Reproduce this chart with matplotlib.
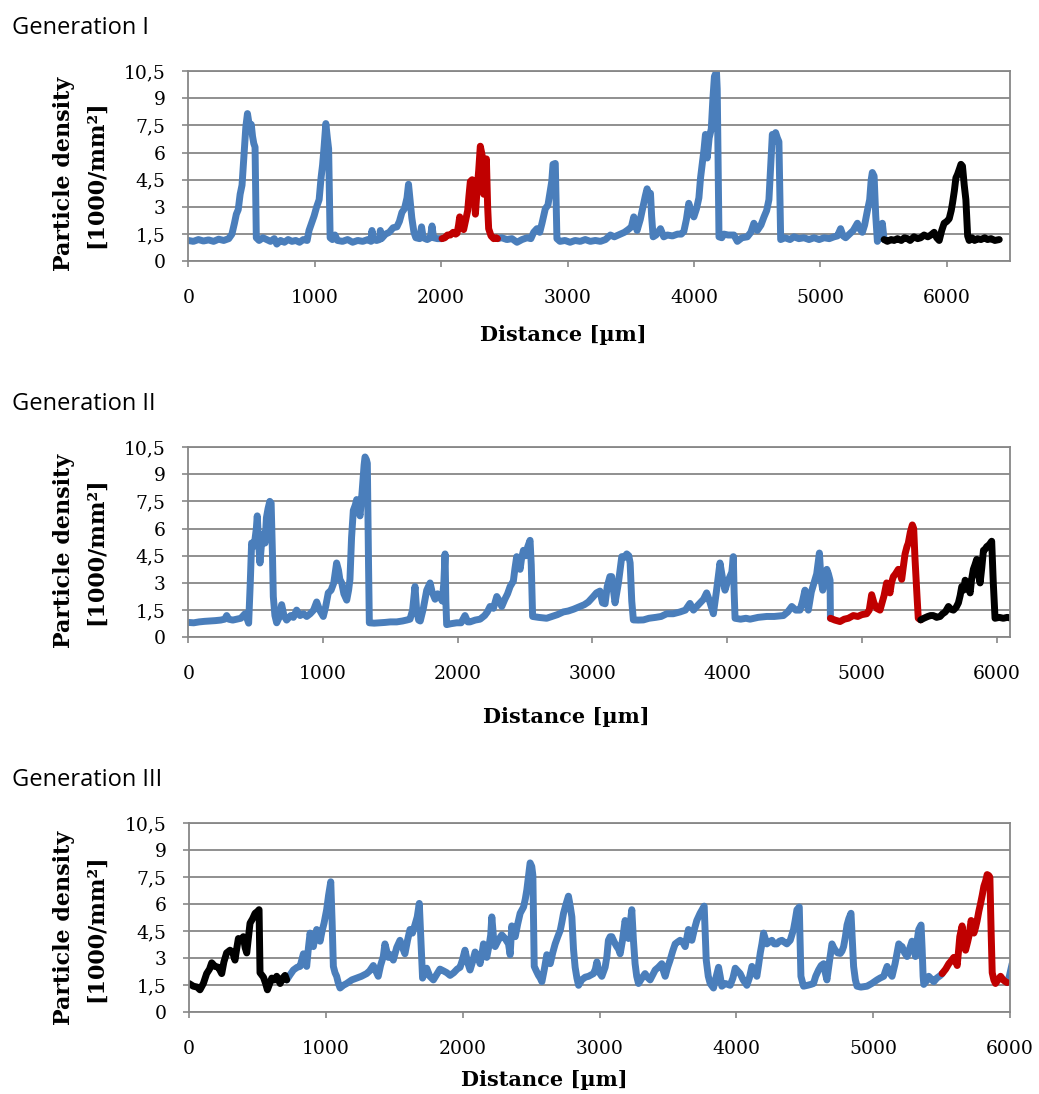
import numpy as np
import matplotlib
matplotlib.use("Agg")
import matplotlib.pyplot as plt

nan = np.nan

BLUE = "#4A7EBB"
RED = "#C00000"
BLACK = "#000000"
GRID = "#878787"

# ---------------- Generation I ----------------
g1_blue_x = [0, 40, 80, 120, 160, 200, 240, 280, 320, 345, 365, 380, 395, 410, 425, 440, 455, 468, 478, 488,
             498, 508, 518, 528, 538, 560, 590, 620, 650, 680, 700, 730, 760, 790, 820, 850, 880, 910, 940, 955,
             975, 995, 1015, 1035, 1050, 1062, 1074, 1088, 1100, 1110, 1122, 1140, 1160, 1180, 1220, 1260, 1300,
             1340, 1380, 1420, 1445, 1453, 1462, 1490, 1512, 1519, 1528, 1560, 1590, 1620, 1650, 1670, 1690, 1710,
             1730, 1742, 1755, 1768, 1785, 1800, 1830, 1845, 1858, 1890, 1915, 1928, 1940, 1970, 2007,
             nan,
             2446, 2480, 2520, 2560, 2600, 2640, 2680, 2710, 2732, 2758, 2780, 2798, 2824, 2845, 2864, 2875, 2885,
             2903, 2916, 2940, 2980, 3020, 3060, 3100, 3140, 3180, 3220, 3260, 3300, 3339, 3370, 3418, 3450, 3480,
             3505, 3524, 3540, 3550, 3575, 3603, 3615, 3629, 3645, 3656, 3665, 3677, 3700, 3735, 3761, 3790, 3830,
             3870, 3900, 3920, 3940, 3959, 3975, 3999, 4020, 4039, 4052, 4065, 4080, 4091, 4105, 4120, 4137, 4150,
             4162, 4178, 4184, 4198, 4220, 4237, 4270, 4316, 4343, 4380, 4422, 4450, 4474, 4501, 4530, 4554, 4575,
             4593, 4605, 4620, 4634, 4646, 4660, 4672, 4686, 4720, 4760, 4791, 4830, 4870, 4910, 4950, 4990, 5030,
             5070, 5108, 5135, 5160, 5180, 5200, 5230, 5260, 5293, 5310, 5332, 5350, 5372, 5390, 5402, 5411, 5425,
             5438, 5451, 5475, 5490, 5504]
g1_blue_y = [1.15, 1.1, 1.2, 1.12, 1.18, 1.1, 1.22, 1.15, 1.25, 1.5, 2.1, 2.6, 2.85, 3.7, 4.2, 5.8, 7.4, 8.15, 7.7, 7.3,
             7.55, 6.9, 6.5, 6.3, 1.3, 1.15, 1.3, 1.2, 1.1, 1.25, 0.95, 1.15, 1.05, 1.2, 1.1, 1.15, 1.05, 1.2, 1.15, 1.7,
             2.1, 2.5, 3.0, 3.4, 4.6, 5.3, 6.3, 7.6, 6.8, 6.2, 1.3, 1.2, 1.45, 1.15, 1.1, 1.2, 1.05,
             1.15, 1.1, 1.2, 1.1, 1.7, 1.2, 1.15, 1.2, 1.7, 1.25, 1.5, 1.6, 1.85, 1.9, 2.2, 2.7, 2.9,
             3.5, 4.25, 3.3, 2.4, 1.6, 1.3, 1.25, 1.9, 1.3, 1.2, 1.3, 1.95, 1.3, 1.25, 1.25,
             nan,
             1.25, 1.3, 1.2, 1.25, 1.05, 1.2, 1.3, 1.25, 1.6, 1.8, 1.6, 2.1, 2.9, 3.1, 3.9, 4.4, 5.35,
             5.4, 1.25, 1.1, 1.15, 1.05, 1.15, 1.1, 1.2, 1.1, 1.15, 1.1, 1.2, 1.45, 1.35, 1.5, 1.6, 1.75,
             1.9, 2.45, 2.0, 1.7, 2.3, 3.2, 3.6, 4.0, 3.7, 3.75, 2.5, 1.35, 1.45, 1.8, 1.35, 1.45, 1.4,
             1.5, 1.5, 1.65, 2.3, 3.2, 2.8, 2.45, 2.9, 3.5, 4.6, 5.35, 6.2, 7.0, 5.7, 6.8, 7.3, 9.0,
             10.2, 10.45, 9.5, 1.35, 1.3, 1.5, 1.45, 1.45, 1.1, 1.3, 1.35, 1.6, 2.1, 1.7, 2.0, 2.45, 2.8,
             3.4, 5.0, 7.0, 6.6, 7.1, 6.8, 6.6, 1.2, 1.3, 1.2, 1.35, 1.25, 1.3, 1.2, 1.3, 1.2, 1.3,
             1.25, 1.35, 1.4, 1.8, 1.4, 1.3, 1.5, 1.7, 2.1, 1.8, 1.6, 2.0, 2.8, 3.4, 4.5, 4.9, 4.7,
             2.5, 1.1, 1.5, 2.1, 1.2]

g1_red_x = [2007, 2030, 2050, 2073, 2095, 2115, 2126, 2138, 2147, 2160, 2178, 2195, 2210, 2220, 2231, 2245, 2257,
            2266, 2271, 2284, 2297, 2310, 2323, 2330, 2337, 2348, 2358, 2368, 2376, 2395, 2416, 2435, 2446]
g1_red_y = [1.25, 1.3, 1.45, 1.45, 1.6, 1.5, 1.55, 2.0, 2.45, 2.0, 1.75, 2.3, 2.8, 3.6, 4.4, 4.5, 4.45,
            3.2, 2.6, 3.9, 5.0, 6.35, 5.9, 5.0, 3.7, 5.2, 5.65, 3.0, 1.8, 1.4, 1.25, 1.3, 1.25]

g1_black_x = [5504, 5530, 5560, 5583, 5610, 5640, 5665, 5689, 5710, 5740, 5770, 5794, 5820, 5850, 5874, 5900, 5920,
              5940, 5960, 5979, 6000, 6019, 6035, 6045, 6060, 6072, 6085, 6100, 6112, 6124, 6138, 6151, 6165, 6177,
              6200, 6220, 6243, 6270, 6300, 6322, 6350, 6380, 6415]
g1_black_y = [1.2, 1.1, 1.2, 1.15, 1.25, 1.15, 1.3, 1.25, 1.15, 1.35, 1.25, 1.3, 1.45, 1.35, 1.45, 1.6, 1.3,
              1.15, 1.7, 2.1, 2.2, 2.35, 2.8, 3.2, 3.9, 4.6, 4.8, 5.1, 5.35, 5.25, 4.2, 3.4, 1.4, 1.15,
              1.3, 1.15, 1.25, 1.2, 1.3, 1.2, 1.25, 1.15, 1.2]

# ---------------- Generation II ----------------
g2_blue_x = [0, 40, 80, 120, 160, 200, 240, 270, 285, 300, 330, 360, 390, 421, 440, 448, 460, 470, 483, 495,
             505, 512, 522, 532, 545, 557, 570, 580, 592, 605, 615, 625, 631, 643, 656, 675, 693, 710, 730, 760,
             780, 804, 830, 855, 879, 905, 930, 953, 975, 1002, 1020, 1039, 1060, 1080, 1101, 1115, 1125, 1139,
             1155, 1176, 1190, 1200, 1212, 1225, 1240, 1250, 1262, 1275, 1290, 1305, 1312, 1322, 1329, 1338, 1344,
             1380, 1423, 1460, 1500, 1547, 1590, 1620, 1646, 1665, 1683, 1695, 1710, 1722, 1745, 1770, 1795, 1810,
             1832, 1850, 1869, 1885, 1897, 1906, 1912, 1918, 1950, 1992, 2025, 2054, 2075, 2091, 2130, 2166, 2200,
             2220, 2240, 2265, 2290, 2310, 2327, 2350, 2370, 2389, 2413, 2425, 2438, 2450, 2463, 2475, 2488, 2505,
             2520, 2537, 2546, 2556, 2600, 2660, 2700, 2740, 2784, 2820, 2860, 2908, 2940, 2970, 3007, 3030, 3056,
             3075, 3094, 3110, 3130, 3143, 3168, 3193, 3205, 3218, 3235, 3255, 3270, 3280, 3292, 3304, 3340, 3379,
             3420, 3470, 3510, 3552, 3600, 3651, 3690, 3724, 3750, 3774, 3800, 3825, 3848, 3870, 3898, 3920, 3947,
             3965, 3984, 4000, 4021, 4035, 4046, 4052, 4059, 4100, 4140, 4170, 4230, 4294, 4350, 4418, 4450, 4480,
             4510, 4541, 4560, 4578, 4590, 4603, 4625, 4645, 4665, 4685, 4697, 4710, 4725, 4740, 4752, 4764, 4767]
g2_blue_y = [0.82, 0.8, 0.85, 0.88, 0.9, 0.92, 0.95, 1.0, 1.2, 1.0, 0.95, 1.0, 1.05, 1.3, 0.95, 0.78, 3.0, 5.2, 5.0, 5.4,
             6.0, 6.7, 5.2, 4.1, 5.3, 5.7, 5.2, 6.6, 7.1, 7.5, 7.4, 4.5, 2.25, 1.2, 0.8, 1.1, 1.8, 1.2, 0.95, 1.2,
             1.1, 1.5, 1.2, 1.3, 1.15, 1.3, 1.5, 1.95, 1.5, 1.15, 1.7, 2.45, 2.6, 3.0, 4.1, 3.7, 3.2, 3.0,
             2.4, 2.05, 2.6, 3.2, 5.5, 7.0, 7.3, 7.6, 7.1, 6.7, 8.0, 9.5, 9.95, 9.8, 9.6, 4.0, 0.8,
             0.78, 0.8, 0.82, 0.85, 0.85, 0.9, 0.95, 1.0, 1.5, 2.8, 1.5, 0.95, 0.9, 1.6, 2.6, 3.0, 2.5,
             2.1, 2.4, 2.25, 2.0, 3.0, 4.6, 2.0, 0.7, 0.75, 0.8, 0.8, 1.2, 0.85, 0.85, 0.95, 1.0, 1.2,
             1.4, 1.7, 1.6, 2.25, 2.0, 1.7, 2.1, 2.4, 2.8, 3.1, 3.8, 4.45, 4.1, 3.75, 4.4, 4.8, 4.5,
             5.0, 5.35, 4.0, 1.15, 1.1, 1.05, 1.15, 1.25, 1.4, 1.45, 1.55, 1.7, 1.8, 1.95, 2.25, 2.45, 2.55,
             1.9, 1.85, 2.8, 3.35, 3.35, 1.9, 3.0, 3.7, 4.45, 4.4, 4.6, 4.5, 4.1, 2.0, 0.96, 0.95, 0.96,
             1.05, 1.1, 1.15, 1.3, 1.3, 1.4, 1.5, 1.87, 1.5, 1.7, 1.9, 2.1, 2.45, 2.0, 1.3, 2.5, 4.1,
             3.3, 2.6, 3.0, 3.35, 3.6, 4.45, 2.5, 1.05, 1.0, 1.05, 1.0, 1.1, 1.15, 1.15, 1.2, 1.4, 1.7,
             1.5, 1.5, 2.0, 2.6, 2.0, 1.5, 2.5, 3.0, 3.5, 4.65, 3.2, 2.6, 3.2, 3.75, 3.5, 3.15, 1.05]

g2_red_x = [4767, 4800, 4838, 4870, 4900, 4937, 4970, 5000, 5036, 5055, 5073, 5090, 5110, 5135, 5150, 5165, 5184,
            5196, 5209, 5220, 5234, 5250, 5271, 5285, 5296, 5310, 5321, 5335, 5345, 5360, 5375, 5385, 5395, 5408,
            5419, 5437]
g2_red_y = [1.05, 0.95, 0.87, 1.0, 1.05, 1.2, 1.15, 1.25, 1.3, 1.5, 2.35, 1.9, 1.6, 1.5, 1.9, 2.3, 3.0,
            2.8, 2.45, 3.0, 3.35, 3.5, 3.75, 3.5, 3.2, 4.0, 4.6, 5.0, 5.2, 5.8, 6.2, 6.0, 4.3, 2.5,
            1.05, 0.96]

g2_black_x = [5437, 5460, 5490, 5510, 5531, 5555, 5581, 5600, 5620, 5643, 5660, 5680, 5700, 5717, 5730, 5742, 5755,
              5767, 5785, 5804, 5815, 5828, 5840, 5853, 5865, 5878, 5890, 5903, 5915, 5927, 5945, 5964, 5976, 5989,
              6020, 6050, 6080, 6113]
g2_black_y = [0.96, 1.05, 1.15, 1.2, 1.2, 1.1, 1.15, 1.3, 1.4, 1.7, 1.55, 1.5, 1.65, 1.9, 2.3, 2.8, 2.6,
              3.15, 2.9, 2.45, 3.2, 3.75, 4.0, 4.3, 3.5, 3.0, 3.8, 4.8, 4.85, 5.0, 5.1, 5.3, 3.0, 1.05,
              1.1, 1.05, 1.1, 1.05]

# ---------------- Generation III ----------------
g3_black_x = [0, 32, 60, 80, 105, 129, 150, 166, 190, 215, 239, 255, 275, 300, 320, 336, 350, 361, 380, 397,
              410, 422, 435, 446, 465, 483, 500, 512, 519, 544, 560, 573, 590, 605, 625, 641, 666, 685, 702, 714]
g3_black_y = [1.6, 1.45, 1.4, 1.25, 1.6, 2.15, 2.4, 2.75, 2.55, 2.5, 2.15, 2.8, 3.3, 3.45, 3.3, 2.9, 3.6, 4.1, 4.0, 4.2,
              3.6, 3.3, 4.2, 4.95, 5.2, 5.5, 5.6, 5.7, 2.2, 1.95, 1.6, 1.25, 1.6, 1.9, 1.8, 2.0, 1.6, 1.9, 2.05, 1.8]

g3_blue_x = [714, 740, 763, 790, 812, 836, 860, 873, 885, 897, 909, 921, 933, 945, 958, 972, 987, 1006, 1020, 1036,
             1046, 1055, 1067, 1079, 1092, 1104, 1128, 1152, 1190, 1225, 1260, 1298, 1320, 1347, 1365, 1383, 1400,
             1420, 1432, 1445, 1457, 1475, 1493, 1518, 1542, 1560, 1578, 1597, 1615, 1633, 1651, 1668, 1683, 1695,
             1707, 1722, 1737, 1760, 1786, 1810, 1834, 1860, 1884, 1908, 1935, 1960, 1981, 1998, 2017, 2035, 2054,
             2072, 2091, 2110, 2127, 2140, 2152, 2165, 2176, 2195, 2205, 2213, 2225, 2237, 2260, 2286, 2310, 2335,
             2347, 2359, 2372, 2384, 2402, 2420, 2445, 2458, 2469, 2482, 2493, 2505, 2513, 2523, 2538, 2554, 2567,
             2579, 2597, 2615, 2628, 2640, 2658, 2676, 2695, 2713, 2725, 2737, 2755, 2773, 2786, 2798, 2810, 2822,
             2835, 2847, 2870, 2895, 2920, 2956, 2970, 2981, 2995, 3004, 3017, 3041, 3054, 3065, 3078, 3090, 3108,
             3126, 3140, 3151, 3168, 3187, 3200, 3212, 3224, 3236, 3248, 3260, 3272, 3285, 3310, 3333, 3350, 3370,
             3390, 3407, 3430, 3455, 3467, 3480, 3498, 3516, 3535, 3553, 3570, 3589, 3608, 3626, 3640, 3650, 3662,
             3675, 3693, 3711, 3723, 3735, 3750, 3765, 3772, 3780, 3795, 3809, 3833, 3850, 3870, 3882, 3894, 3920,
             3955, 3975, 3992, 4010, 4028, 4050, 4077, 4095, 4114, 4132, 4150, 4162, 4175, 4187, 4199, 4211, 4223,
             4240, 4260, 4278, 4296, 4315, 4333, 4350, 4369, 4382, 4394, 4406, 4418, 4430, 4443, 4460, 4466, 4472,
             4491, 4520, 4545, 4564, 4580, 4601, 4620, 4638, 4650, 4662, 4680, 4699, 4711, 4723, 4741, 4760, 4772,
             4784, 4797, 4809, 4822, 4838, 4848, 4857, 4870, 4882, 4910, 4955, 4990, 5028, 5050, 5077, 5090, 5102,
             5120, 5138, 5160, 5175, 5187, 5200, 5211, 5230, 5248, 5265, 5284, 5297, 5309, 5320, 5333, 5350, 5358,
             5365, 5370, 5390, 5406, 5425, 5443, 5465, 5492, 5504,
             nan,
             5979, 5995, 6016]
g3_blue_y = [1.8, 2.1, 2.35, 2.5, 2.55, 3.25, 2.55, 3.6, 4.4, 3.8, 3.65, 4.2, 4.6, 4.3, 3.95, 4.5, 4.95, 5.7, 6.5, 7.25,
             5.0, 2.55, 2.2, 2.0, 1.6, 1.35, 1.5, 1.6, 1.8, 1.9, 2.0, 2.15, 2.3, 2.6, 2.3, 2.0, 2.6,
             3.1, 3.8, 3.4, 3.05, 3.2, 2.9, 3.6, 4.0, 3.6, 3.25, 4.0, 4.6, 4.4, 4.85, 5.3, 6.05, 4.0,
             1.9, 2.2, 2.45, 2.0, 1.8, 2.1, 2.4, 2.3, 2.2, 2.05, 2.2, 2.4, 2.5, 2.9, 3.45, 2.8, 2.35,
             2.8, 3.35, 3.1, 2.7, 3.2, 3.8, 3.3, 3.05, 3.8, 4.3, 5.3, 4.2, 3.65, 4.0, 4.3, 4.1, 3.8,
             3.2, 4.8, 4.4, 4.2, 4.9, 5.5, 5.85, 6.3, 6.8, 7.6, 8.3, 8.1, 7.6, 2.55, 2.3, 2.05, 1.9,
             1.7, 2.4, 3.2, 3.0, 2.7, 3.3, 3.8, 4.2, 4.55, 5.0, 5.5, 6.0, 6.45, 5.9, 5.3, 3.5, 2.5,
             1.9, 1.5, 1.8, 1.95, 2.0, 2.15, 2.4, 2.8, 2.3, 2.15, 2.0, 2.5, 3.1, 4.0, 4.2, 4.2, 3.9,
             3.65, 3.5, 3.25, 4.0, 5.1, 4.6, 4.1, 4.9, 5.7, 4.0, 2.7, 2.0, 1.6, 1.9, 2.15, 1.95, 1.8,
             2.1, 2.35, 2.5, 2.7, 2.3, 2.0, 2.5, 2.9, 3.4, 3.8, 3.9, 4.0, 3.9, 3.65, 4.2, 4.6, 4.3,
             4.0, 4.6, 5.1, 5.3, 5.5, 5.7, 5.9, 4.5, 2.9, 2.0, 1.6, 1.35, 1.9, 2.5, 2.0, 1.45, 1.6,
             1.5, 1.9, 2.45, 2.3, 2.15, 1.8, 1.5, 1.9, 2.55, 2.3, 2.0, 2.6, 3.3, 3.8, 4.4, 4.1, 3.8,
             3.9, 4.0, 3.8, 3.8, 3.95, 4.0, 3.9, 3.8, 3.9, 4.0, 4.3, 4.6, 5.1, 5.7, 5.85, 4.0, 2.0,
             1.45, 1.5, 1.55, 1.6, 2.0, 2.35, 2.6, 2.7, 2.2, 1.8, 2.8, 3.8, 3.6, 3.45, 3.3, 3.27, 3.4,
             3.65, 4.2, 4.85, 5.2, 5.5, 4.0, 2.55, 1.8, 1.45, 1.4, 1.45, 1.6, 1.8, 1.9, 2.0, 2.3, 2.55,
             2.2, 2.0, 2.7, 3.3, 3.8, 3.7, 3.65, 3.3, 3.1, 3.5, 3.95, 3.6, 3.1, 3.9, 4.6, 4.85, 3.5,
             2.0, 1.55, 1.75, 2.0, 1.85, 1.7, 1.9, 2.05, 2.15,
             nan,
             1.65, 2.0, 2.7]

g3_red_x = [5504, 5530, 5553, 5570, 5589, 5600, 5614, 5625, 5633, 5650, 5662, 5675, 5690, 5699, 5716, 5736, 5748,
            5760, 5772, 5785, 5797, 5809, 5822, 5833, 5845, 5853, 5862, 5870, 5882, 5894, 5912, 5931, 5950, 5967,
            5979]
g3_red_y = [2.15, 2.4, 2.7, 2.85, 3.05, 2.9, 2.6, 3.5, 4.2, 4.8, 4.1, 3.45, 3.9, 4.2, 5.1, 4.4, 4.7,
            5.1, 5.6, 6.05, 6.5, 7.0, 7.3, 7.65, 7.6, 7.5, 4.5, 2.2, 1.8, 1.6, 1.8, 2.0, 1.8, 1.7,
            1.65]

yticks = [0, 1.5, 3, 4.5, 6, 7.5, 9, 10.5]
ytick_labels = ["0", "1,5", "3", "4,5", "6", "7,5", "9", "10,5"]
xticks = [0, 1000, 2000, 3000, 4000, 5000, 6000]

W, H = 1039, 1094
fig = plt.figure(figsize=(W / 100, H / 100), dpi=100)

SERIF = "DejaVu Serif"
SANS = "Open Sans"

panels = [
    ("Generation I", (188.3, 71, 1010, 261.3), 6500, (563, 335), 174,
     [(g1_blue_x, g1_blue_y, BLUE), (g1_red_x, g1_red_y, RED), (g1_black_x, g1_black_y, BLACK)]),
    ("Generation II", (188.3, 447, 1010, 637.3), 6100, (566, 717), 551,
     [(g2_blue_x, g2_blue_y, BLUE), (g2_red_x, g2_red_y, RED), (g2_black_x, g2_black_y, BLACK)]),
    ("Generation III", (189, 823.3, 1010, 1012.3), 6000, (544, 1080), 928,
     [(g3_blue_x, g3_blue_y, BLUE), (g3_black_x, g3_black_y, BLACK), (g3_red_x, g3_red_y, RED)]),
]

for title, (l, t, r, b), xmax, (xlx, xly), yly, series in panels:
    ax = fig.add_axes([l / W, 1 - b / H, (r - l) / W, (b - t) / H])
    for xs, ys, c in series:
        ax.plot(xs, ys, color=c, lw=5, solid_joinstyle="round", solid_capstyle="round")

    ax.set_xlim(0, xmax)
    ax.set_ylim(0, 10.5)
    ax.set_yticks(yticks)
    ax.set_yticklabels(ytick_labels)
    ax.set_xticks(xticks)
    ax.set_xticklabels([str(v) for v in xticks])
    ax.yaxis.grid(True, color=GRID, lw=1.3)
    ax.set_axisbelow(True)
    for s in ax.spines.values():
        s.set_color(GRID)
        s.set_linewidth(1.3)
    ax.tick_params(axis="x", direction="out", length=4.3, width=1.2, color=GRID, pad=16)
    ax.tick_params(axis="y", direction="out", length=4.3, width=1.2, color=GRID, pad=12)
    for lab in ax.get_xticklabels() + ax.get_yticklabels():
        lab.set_fontfamily(SERIF)
        lab.set_fontsize(13.5)

    # panel title, axis labels
    fig.text(12 / W, 1 - (t - 37) / H, title, fontsize=17, family=SANS, va="baseline", ha="left")
    fig.text(xlx / W, 1 - xly / H, "Distance [µm]", fontsize=15, family=SERIF, fontweight="bold",
             ha="center", va="center")
    fig.text(64 / W, 1 - yly / H, "Particle density", fontsize=16, family=SERIF, fontweight="bold",
             rotation=90, ha="center", va="center")
    fig.text(96 / W, 1 - yly / H, "[1000/mm²]", fontsize=16, family=SERIF, fontweight="bold",
             rotation=90, ha="center", va="center")

fig.savefig("out.png", dpi=100)
